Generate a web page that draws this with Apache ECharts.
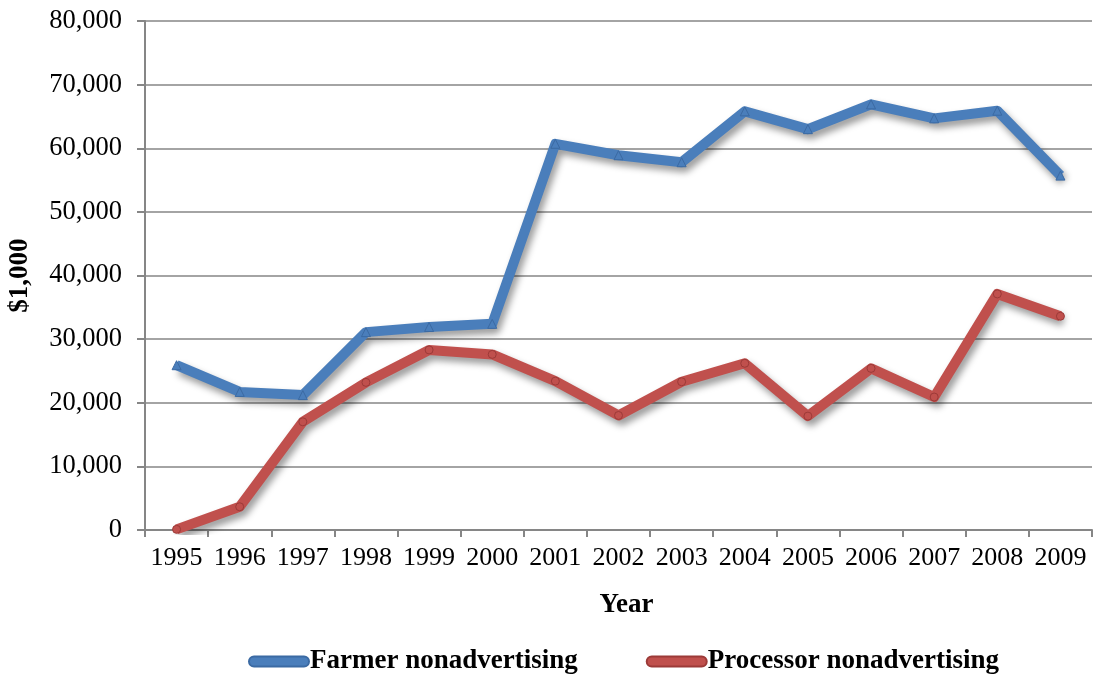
<!DOCTYPE html>
<html>
<head>
<meta charset="utf-8">
<script src="https://cdn.jsdelivr.net/npm/echarts@6/dist/echarts.min.js"></script>
<style>
  html, body { margin: 0; padding: 0; background: #fff; }
  #chart { width: 1094px; height: 677px; }
</style>
</head>
<body>
<div id="chart"></div>
<script>
// Nonadvertising expenditures, $1,000
const years = ['1995', '1996', '1997', '1998', '1999', '2000', '2001', '2002',
               '2003', '2004', '2005', '2006', '2007', '2008', '2009'];
const farmer = [25900, 21700, 21200, 31100, 31900, 32400, 60700, 58900,
                57800, 65800, 63000, 66900, 64700, 65900, 55700];
const processor = [100, 3650, 17000, 23200, 28300, 27600, 23400, 18000,
                   23300, 26200, 17900, 25400, 20900, 37100, 33600];
const yTicks = [0, 10000, 20000, 30000, 40000, 50000, 60000, 70000, 80000];

const serif = '"Liberation Serif", "Times New Roman", serif';
const axisGray = '#868686';
const blue = '#4a7ebb';
const red = '#c0504d';

const chart = echarts.init(document.getElementById('chart'), null, { renderer: 'canvas' });

const lineShadow = {
  shadowColor: 'rgba(0,0,0,0.4)',
  shadowBlur: 7,
  shadowOffsetX: 3,
  shadowOffsetY: 5
};

chart.setOption({
  animation: false,
  backgroundColor: '#fff',
  grid: { left: 145, right: 2, top: 21, bottom: 147, containLabel: false, outerBoundsMode: 'none' },
  legend: {
    bottom: -3,
    left: 243,
    itemWidth: 60,
    itemHeight: 11,
    itemGap: 68,
    icon: 'path://M5,0 L55,0 A5,5 0 0 1 55,10 L5,10 A5,5 0 0 1 5,0 Z',
    textStyle: { fontFamily: serif, fontWeight: 'bold', fontSize: 27, color: '#000', padding: [0, 0, 0, -4] },
    data: ['Farmer nonadvertising', 'Processor nonadvertising']
  },
  xAxis: {
    type: 'category',
    data: years,
    boundaryGap: true,
    name: 'Year',
    nameLocation: 'middle',
    nameGap: 62,
    nameTextStyle: { fontFamily: serif, fontWeight: 'bold', fontSize: 27, color: '#000', padding: [0, 0, 0, 16] },
    axisLine: { lineStyle: { color: axisGray, width: 2 } },
    axisTick: { show: true, inside: false, length: 7, interval: 0, lineStyle: { color: axisGray, width: 2 } },
    axisLabel: { fontFamily: serif, fontSize: 26, color: '#000', margin: 15, interval: 0 },
    splitLine: { show: false }
  },
  yAxis: {
    type: 'value',
    min: yTicks[0],
    max: yTicks[yTicks.length - 1],
    interval: yTicks[1] - yTicks[0],
    name: '$1,000',
    nameLocation: 'middle',
    nameGap: 111,
    nameRotate: 90,
    nameTextStyle: { fontFamily: serif, fontWeight: 'bold', fontSize: 27, color: '#000' },
    axisLine: { show: true, lineStyle: { color: axisGray, width: 2 } },
    axisTick: { show: true, inside: false, length: 8, lineStyle: { color: axisGray, width: 2 } },
    axisLabel: {
      fontFamily: serif, fontSize: 26.5, color: '#000', margin: 23,
      formatter: v => v.toLocaleString('en-US')
    },
    splitLine: { show: true, lineStyle: { color: axisGray, width: 1.5 } }
  },
  series: [
    {
      name: 'Farmer nonadvertising',
      type: 'line',
      data: farmer,
      color: blue,
      symbol: 'triangle',
      symbolSize: 9,
      itemStyle: { color: blue, borderColor: '#3b6aa3', borderWidth: 1 },
      lineStyle: Object.assign({ color: blue, width: 10, join: 'round' }, lineShadow),
      z: 3
    },
    {
      name: 'Processor nonadvertising',
      type: 'line',
      data: processor,
      color: red,
      symbol: 'circle',
      symbolSize: 8,
      itemStyle: { color: red, borderColor: '#9c3a38', borderWidth: 1 },
      lineStyle: Object.assign({ color: red, width: 10, join: 'round' }, lineShadow),
      z: 2
    }
  ]
});
</script>
</body>
</html>
